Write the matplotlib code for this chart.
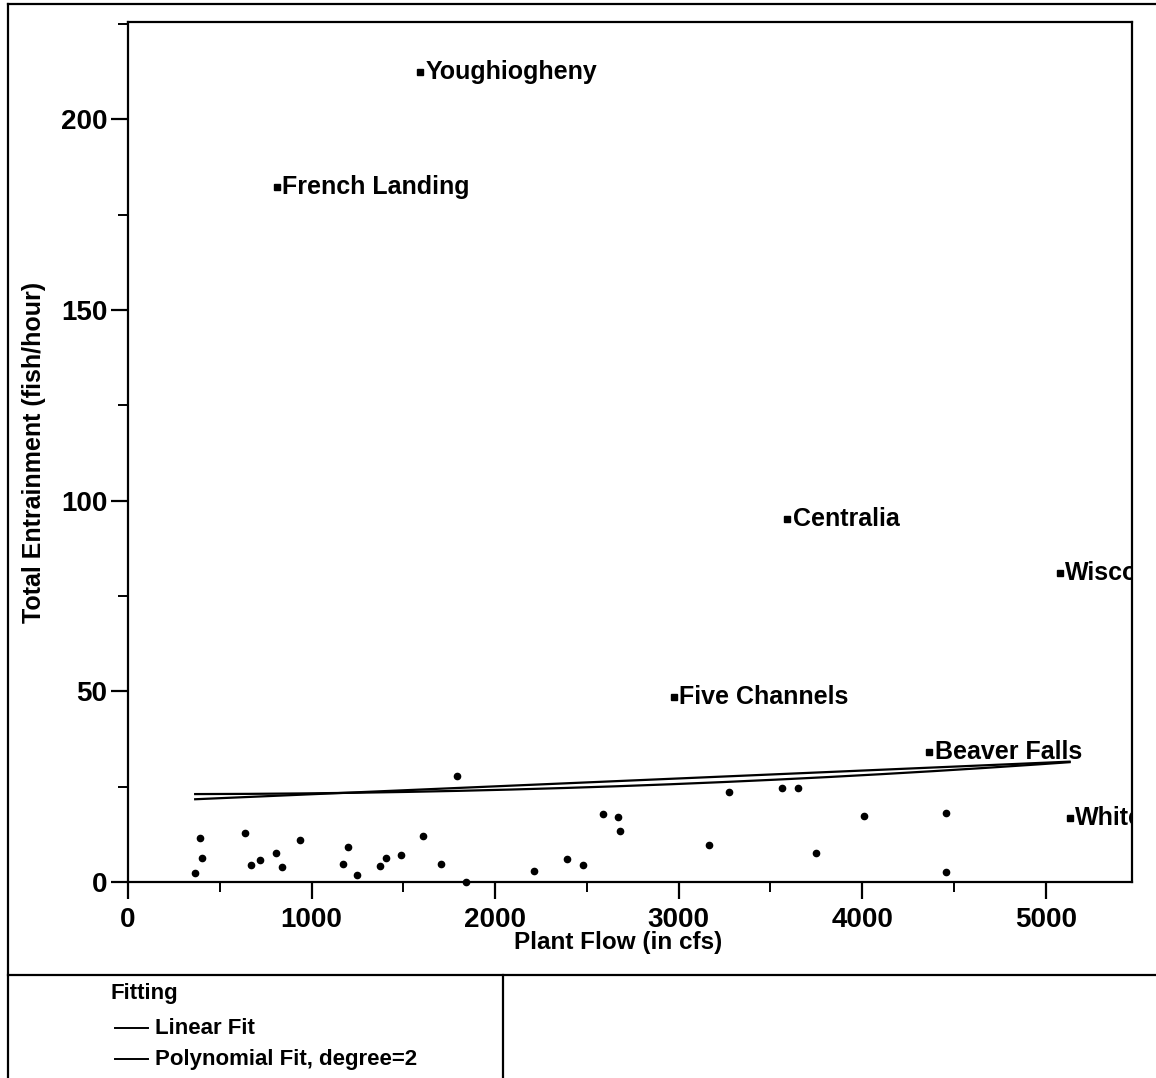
import matplotlib
matplotlib.use('Agg')
import matplotlib.pyplot as plt
import numpy as np
from matplotlib.lines import Line2D

plt.rcParams['font.family'] = ['Liberation Sans', 'DejaVu Sans']
plt.rcParams['font.weight'] = 'bold'
plt.rcParams['axes.labelweight'] = 'bold'

# ---- data ----
flow = [366, 391, 404, 640, 670, 719, 806, 841, 939, 1174, 1201, 1246, 1375, 1404,
        1485, 1609, 1708, 1793, 1841, 2214, 2391, 2480, 2589, 2668, 2679, 3168,
        3277, 3565, 3652, 3750, 4011, 4457, 4457]
entrain = [2.4, 11.5, 6.4, 12.8, 4.5, 5.7, 7.5, 4.0, 10.9, 4.6, 9.2, 1.8, 4.1, 6.4,
           7.0, 12.0, 4.6, 27.8, 0.0, 3.0, 5.9, 4.5, 17.8, 17.0, 13.4, 9.7,
           23.6, 24.6, 24.6, 7.6, 17.3, 18.1, 2.6]

site_names = ["Youghiogheny", "French Landing", "Centralia", "Wisconsin",
              "Five Channels", "Beaver Falls", "White"]
site_flow = [1592, 810, 3592, 5076, 2973, 4364, 5130]
site_entrain = [212.3, 182.2, 95.2, 81.0, 48.5, 34.1, 16.8]

linear_coef = [0.00207, 20.94]                 # slope, intercept
poly_coef = [0.35e-6, -0.1685e-3, 23.07]       # degree-2 fit

xticks = [0, 1000, 2000, 3000, 4000, 5000]
yticks = [0, 50, 100, 150, 200]

W, H = 1156, 1078
fig = plt.figure(figsize=(W / 100, H / 100), dpi=100)
ax = fig.add_axes([128 / W, 1 - 882 / H, (1132 - 128) / W, (882 - 22) / H])

ax.plot(flow, entrain, 'o', color='black', ms=4.5, clip_on=False, zorder=3)
ax.plot(site_flow, site_entrain, 's', color='black', ms=4.5, clip_on=False, zorder=3)
for name, x, y in zip(site_names, site_flow, site_entrain):
    t = ax.annotate(name, (x, y), xytext=(4, 0), textcoords='offset points',
                    ha='left', va='center', fontsize=18, color='black')
    t.set_clip_on(True)
    t.set_clip_box(ax.bbox)

all_x = np.array(flow + site_flow, dtype=float)
xs = np.linspace(all_x.min(), all_x.max(), 200)
ax.plot(xs, np.polyval(linear_coef, xs), color='black', lw=1.6)
ax.plot(xs, np.polyval(poly_coef, xs), color='black', lw=1.6)

ax.set_xlim(0, 5470)
ax.set_ylim(0, 225.5)
ax.set_xticks(xticks)
ax.set_yticks(yticks)
ax.set_xticks(np.arange(500, 5470, 1000), minor=True)
ax.set_yticks(np.arange(25, 226, 50), minor=True)
ax.tick_params(which='major', direction='out', length=12, width=1.6, labelsize=20)
ax.tick_params(which='minor', direction='out', length=7, width=1.4)
ax.tick_params(axis='x', which='major', pad=6)
ax.tick_params(axis='y', which='major', pad=3)
for s in ax.spines.values():
    s.set_linewidth(1.6)

ax.set_xlabel("Plant Flow (in cfs)", fontsize=17.5, fontweight='bold', va='center')
ax.xaxis.set_label_coords(0.488, -0.0698)
ax.set_ylabel("Total Entrainment (fish/hour)", fontsize=18, fontweight='bold', va='center')
ax.yaxis.set_label_coords(-0.0936, 0.5)

def fline(x0, y0, x1, y1, lw=1.6):
    fig.add_artist(Line2D([x0 / W, x1 / W], [1 - y0 / H, 1 - y1 / H],
                          transform=fig.transFigure, color='black', lw=lw))

fline(8, 4, 8, 1078)
fline(8, 4, 1156, 4)
fline(8, 975, 1156, 975)
fline(503, 975, 503, 1078)

fig.text(110 / W, 1 - 993 / H, "Fitting", fontsize=16, ha='left', va='center')
fline(115, 1028, 148, 1028, lw=1.4)
fig.text(155 / W, 1 - 1028 / H, "Linear Fit", fontsize=16, ha='left', va='center')
fline(115, 1059, 148, 1059, lw=1.4)
fig.text(155 / W, 1 - 1059 / H, "Polynomial Fit, degree=2", fontsize=16, ha='left', va='center')

fig.savefig('out.png', dpi=100)
